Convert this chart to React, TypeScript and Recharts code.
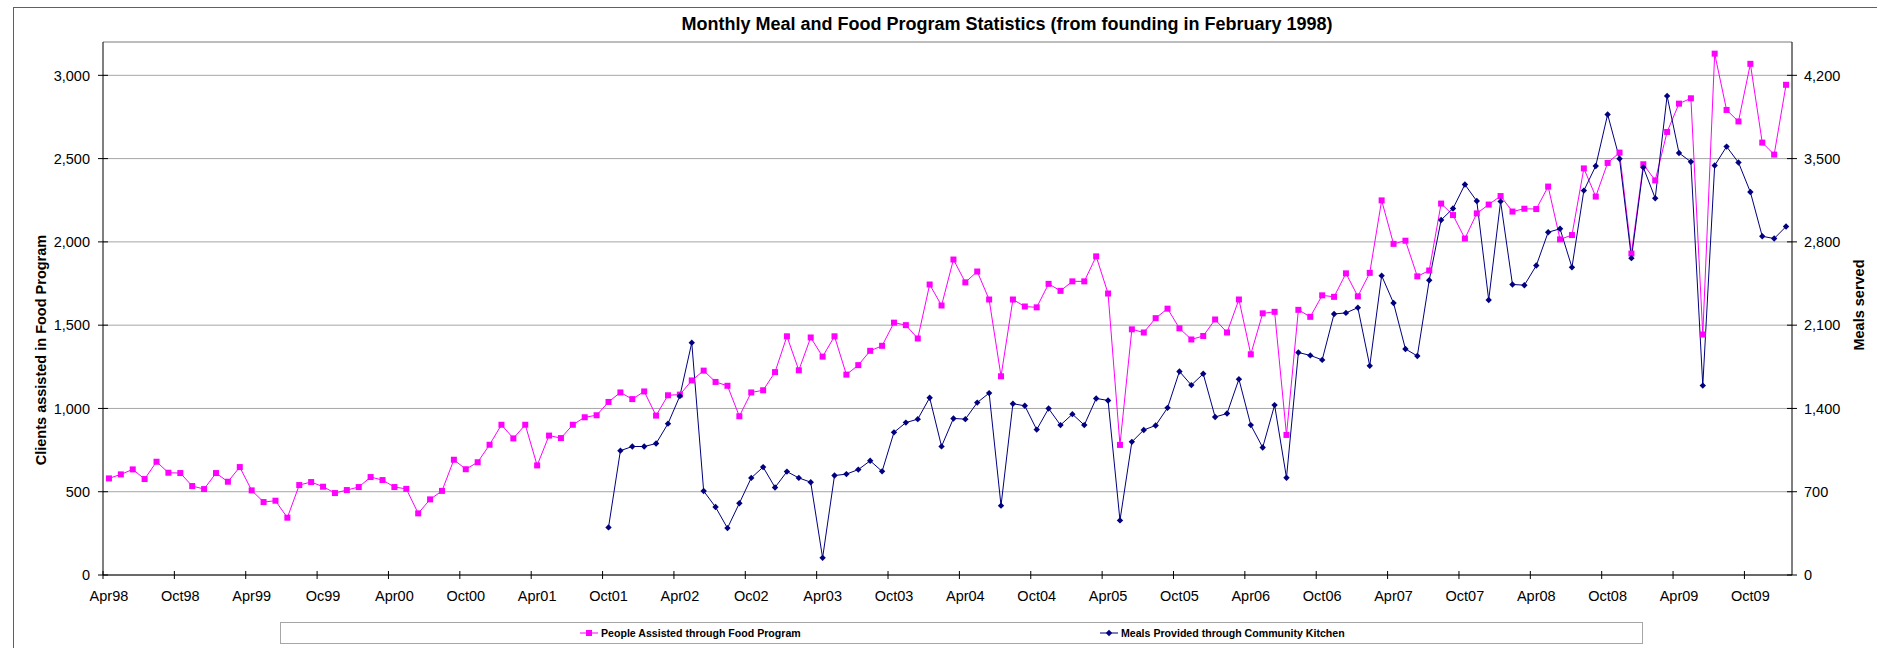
import { CartesianGrid, Line, LineChart, ReferenceLine, XAxis, YAxis } from 'recharts';

// Monthly series, Apr98 .. Jan10 (142 months)
const PEOPLE = [
  580, 604, 634, 576, 680, 614, 612, 534, 516, 612, 560, 648,
  508, 438, 446, 344, 540, 558, 530, 492, 510, 528, 588, 570,
  528, 517, 370, 454, 505, 692, 635, 677, 782, 902, 820, 902,
  658, 837, 822, 902, 947, 959, 1039, 1096, 1056, 1102, 957, 1079,
  1083, 1168, 1227, 1159, 1136, 953, 1096, 1109, 1218, 1433, 1229, 1426,
  1311, 1433, 1203, 1260, 1346, 1376, 1515, 1500, 1420, 1744, 1618, 1894,
  1757, 1822, 1654, 1193, 1654, 1612, 1607, 1748, 1706, 1763, 1763, 1913,
  1690, 781, 1475, 1456, 1542, 1599, 1481, 1414, 1435, 1534, 1456, 1654,
  1325, 1571, 1580, 841, 1592, 1550, 1679, 1670, 1811, 1673, 1814, 2249,
  1988, 2007, 1793, 1828, 2230, 2161, 2020, 2171, 2224, 2275, 2182, 2199,
  2197, 2332, 2015, 2041, 2441, 2272, 2474, 2536, 1930, 2466, 2369, 2660,
  2830, 2862, 1444, 3130, 2792, 2723, 3069, 2596, 2524, 2943,
];

// Community kitchen starts in Oct01 (month index 42)
const MEALS_START = 42;
const MEALS = [
  400, 1045, 1080, 1080, 1105, 1272,
  1505, 1953, 706, 571, 394, 603, 816, 907, 736, 869, 816, 780,
  144, 836, 848, 886, 960, 871, 1199, 1281, 1310, 1490, 1081, 1316,
  1310, 1449, 1529, 583, 1440, 1422, 1222, 1399, 1260, 1352, 1260, 1484,
  1467, 459, 1119, 1219, 1257, 1405, 1711, 1596, 1691, 1328, 1357, 1646,
  1260, 1072, 1428, 818, 1870, 1846, 1808, 2194, 2203, 2247, 1758, 2516,
  2286, 1900, 1841, 2477, 2984, 3081, 3282, 3143, 2312, 3140, 2442, 2436,
  2601, 2881, 2910, 2586, 3231, 3438, 3871, 3499, 2663, 3426, 3167, 4027,
  3547, 3473, 1592, 3442, 3601, 3467, 3219, 2847, 2828, 2929,
];

// one label every 6 months, as printed on the original
const TICK_LABELS = [
  'Apr98', 'Oct98', 'Apr99', 'Oc99', 'Apr00', 'Oct00', 'Apr01', 'Oct01',
  'Apr02', 'Oc02', 'Apr03', 'Oct03', 'Apr04', 'Oct04', 'Apr05', 'Oct05',
  'Apr06', 'Oct06', 'Apr07', 'Oct07', 'Apr08', 'Oct08', 'Apr09', 'Oct09',
];
const CLIENT_TICKS = [0, 500, 1000, 1500, 2000, 2500, 3000];
const MEAL_TICKS = [0, 700, 1400, 2100, 2800, 3500, 4200];

const W = 1877;
const H = 648;
const MARGIN = { top: 42, right: 5, bottom: 33, left: 13 };
const LEFT_AXIS_W = 90;
const RIGHT_AXIS_W = 80;
const PLOT_W = W - MARGIN.left - MARGIN.right - LEFT_AXIS_W - RIGHT_AXIS_W;
const N_MONTHS = PEOPLE.length;
const SLOT = PLOT_W / N_MONTHS;

const FONT = '"Liberation Sans", Arial, sans-serif';
const PINK = '#FF00FF';
const NAVY = '#000080';

const data = PEOPLE.map((people, idx) => ({
  idx,
  people,
  meals: idx >= MEALS_START ? MEALS[idx - MEALS_START] : null,
}));

const fmt = (v: number) => v.toLocaleString('en-US');

function MonthTick({ x, y, payload }: any) {
  const label = TICK_LABELS[Math.round(payload.value / 6)];
  const bx = x - SLOT / 2;
  return (
    <g>
      <line x1={bx} x2={bx} y1={y - 4} y2={y + 4} stroke="#000" />
      <text x={x} y={y + 26} textAnchor="middle" fontSize={14.5} fontFamily={FONT} fill="#000">
        {label}
      </text>
    </g>
  );
}

function LeftTick({ x, y, payload }: any) {
  return (
    <g>
      <line x1={x - 5} x2={x + 5} y1={y} y2={y} stroke="#000" />
      <text x={x - 13} y={y} dy="0.36em" textAnchor="end" fontSize={14.5} fontFamily={FONT} fill="#000">
        {fmt(payload.value)}
      </text>
    </g>
  );
}

function RightTick({ x, y, payload }: any) {
  return (
    <g>
      <line x1={x - 5} x2={x + 5} y1={y} y2={y} stroke="#000" />
      <text x={x + 12} y={y} dy="0.36em" textAnchor="start" fontSize={14.5} fontFamily={FONT} fill="#000">
        {fmt(payload.value)}
      </text>
    </g>
  );
}

function SquareDot(props: any) {
  const { cx, cy, index } = props;
  if (cx == null || cy == null) return <g key={`sq-${index}`} />;
  return <rect key={`sq-${index}`} x={cx - 3} y={cy - 3} width={6} height={6} fill={PINK} />;
}

function DiamondDot(props: any) {
  const { cx, cy, index } = props;
  if (cx == null || cy == null) return <g key={`dm-${index}`} />;
  const r = 3.2;
  return (
    <path
      key={`dm-${index}`}
      d={`M${cx},${cy - r}L${cx + r},${cy}L${cx},${cy + r}L${cx - r},${cy}Z`}
      fill={NAVY}
    />
  );
}

const abs = (style: React.CSSProperties): React.CSSProperties => ({ position: 'absolute', ...style });

export default function App() {
  return (
    <div style={abs({ left: 0, top: 0, width: W, height: H, overflow: 'hidden', background: '#fff', fontFamily: FONT })}>
      {/* chart area frame */}
      <div style={abs({ left: 13, top: 7, width: W + 20, height: H + 20, border: '1px solid #606060' })} />

      <div style={abs({ left: 0, top: 0 })}>
        <LineChart width={W} height={H} data={data} margin={MARGIN}>
          <CartesianGrid yAxisId="left" vertical={false} stroke="#a6a6a6" />
          <XAxis
            dataKey="idx"
            type="number"
            domain={[-0.5, N_MONTHS - 0.5]}
            ticks={TICK_LABELS.map((_, i) => i * 6)}
            interval={0}
            tickSize={0}
            tickMargin={0}
            tickLine={false}
            axisLine={{ stroke: '#000' }}
            tick={<MonthTick />}
            height={40}
          />
          <YAxis
            yAxisId="left"
            orientation="left"
            domain={[0, 3200]}
            ticks={CLIENT_TICKS}
            interval={0}
            tickSize={0}
            tickMargin={0}
            tickLine={false}
            axisLine={{ stroke: '#000' }}
            tick={<LeftTick />}
            width={LEFT_AXIS_W}
          />
          <YAxis
            yAxisId="right"
            orientation="right"
            domain={[0, 4480]}
            ticks={MEAL_TICKS}
            interval={0}
            tickSize={0}
            tickMargin={0}
            tickLine={false}
            axisLine={{ stroke: '#000' }}
            tick={<RightTick />}
            width={RIGHT_AXIS_W}
          />
          <ReferenceLine yAxisId="left" y={3200} stroke="#a6a6a6" />
          <Line
            yAxisId="left"
            dataKey="people"
            stroke={PINK}
            strokeWidth={1}
            dot={SquareDot}
            activeDot={false}
            isAnimationActive={false}
          />
          <Line
            yAxisId="right"
            dataKey="meals"
            stroke={NAVY}
            strokeWidth={1}
            dot={DiamondDot}
            activeDot={false}
            isAnimationActive={false}
          />
        </LineChart>
      </div>

      <div
        style={abs({
          left: 1007, top: 24, transform: 'translate(-50%, -50%)', whiteSpace: 'nowrap',
          fontSize: 18, fontWeight: 'bold', color: '#000',
        })}
      >
        Monthly Meal and Food Program Statistics (from founding in February 1998)
      </div>

      <div
        style={abs({
          left: 41, top: 350, transform: 'translate(-50%, -50%) rotate(-90deg)', whiteSpace: 'nowrap',
          fontSize: 14.5, fontWeight: 'bold', color: '#000',
        })}
      >
        Clients assisted in Food Program
      </div>
      <div
        style={abs({
          left: 1859, top: 305, transform: 'translate(-50%, -50%) rotate(-90deg)', whiteSpace: 'nowrap',
          fontSize: 14.5, fontWeight: 'bold', color: '#000',
        })}
      >
        Meals served
      </div>

      {/* legend */}
      <div style={abs({ left: 280, top: 622, width: 1361, height: 20, border: '1px solid #a6a6a6', background: '#fff' })}>
        <div style={abs({ left: 298, top: 0, height: 20, display: 'flex', alignItems: 'center', whiteSpace: 'nowrap' })}>
          <svg width={20} height={10}>
            <line x1={1} x2={19} y1={5} y2={5} stroke={PINK} />
            <rect x={7} y={2} width={6} height={6} fill={PINK} />
          </svg>
          <span style={{ fontSize: 10.6, fontWeight: 'bold', marginLeft: 2 }}>People Assisted through Food Program</span>
        </div>
        <div style={abs({ left: 818, top: 0, height: 20, display: 'flex', alignItems: 'center', whiteSpace: 'nowrap' })}>
          <svg width={20} height={10}>
            <line x1={1} x2={19} y1={5} y2={5} stroke={NAVY} />
            <path d="M10,1.8L13.2,5L10,8.2L6.8,5Z" fill={NAVY} />
          </svg>
          <span style={{ fontSize: 10.6, fontWeight: 'bold', marginLeft: 2 }}>Meals Provided through Community Kitchen</span>
        </div>
      </div>
    </div>
  );
}
